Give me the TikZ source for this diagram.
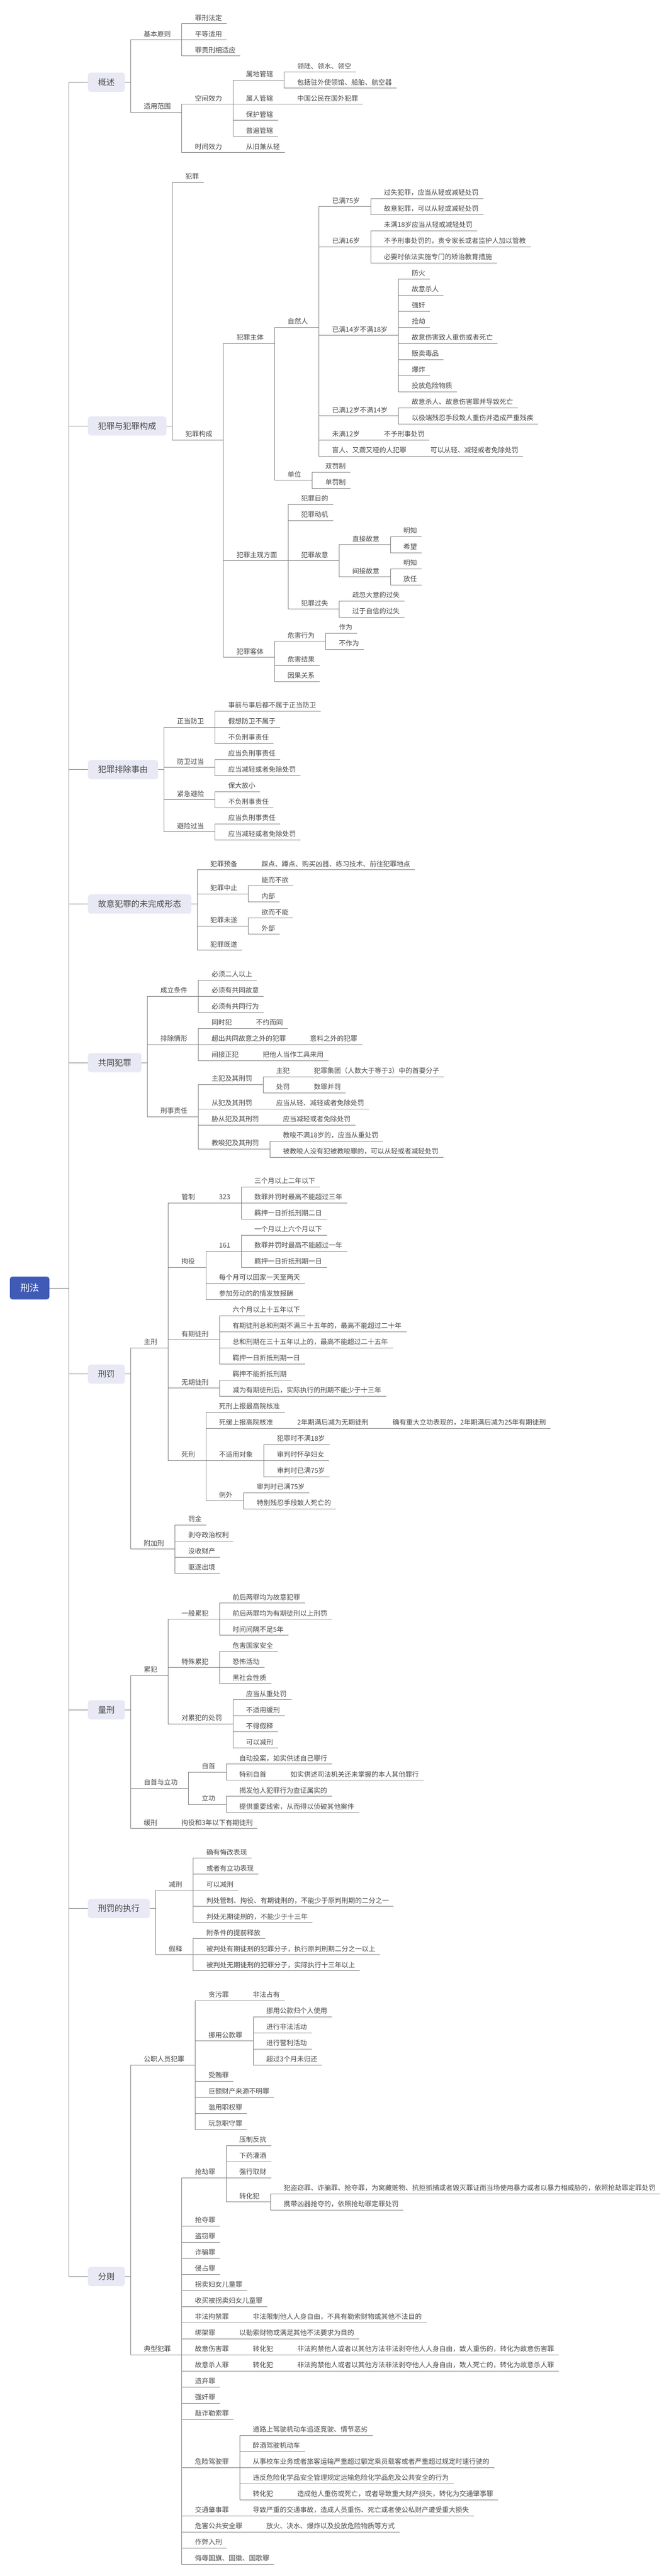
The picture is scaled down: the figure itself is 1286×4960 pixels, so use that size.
\documentclass[tikz,border=0pt]{standalone}
\usepackage{fontspec}
\setmainfont{Noto Sans CJK SC}
\usetikzlibrary{calc}
\definecolor{txtc}{HTML}{4A4A4A}
\definecolor{lnc}{HTML}{808080}
\definecolor{topicfill}{HTML}{E8E9F4}
\definecolor{rootfill}{HTML}{3F5BB5}
\tikzset{
 txt/.style={inner sep=0pt, text=txtc, font=\fontsize{13pt}{15pt}\selectfont, text height=11pt, text depth=1.2pt},
 ln/.style={draw=lnc, line width=1pt},
 topic/.style={fill=topicfill, rounded corners=5pt, inner xsep=19.5pt, inner ysep=0pt, minimum height=37pt, text=txtc, font=\fontsize{16pt}{18pt}\selectfont, text height=13.5pt, text depth=1.5pt},
 rootbox/.style={fill=rootfill, rounded corners=5pt, inner xsep=20pt, inner ysep=0pt, minimum height=44pt, text=white, font=\fontsize{18pt}{20pt}\selectfont, text height=15pt, text depth=2pt}
}
\newcommand\mmN[4]{%
  \path let \p1=(#2-s) in node[txt,anchor=west] (#1) at ({\x1+25pt},{-(\secbase+31*(#3))*1pt}) {#4};
  \path let \p1=(#1.east) in coordinate (#1-s) at ({\x1+21pt},{-(\secbase+31*(#3)+11.5)*1pt});
  \draw[ln] (#2-s) |- (#1-s);
}
\newcommand\mmL[4]{%
  \path let \p1=(#2-s) in node[txt,anchor=west] (#1) at ({\x1+25pt},{-(\secbase+31*(#3))*1pt}) {#4};
  \path let \p1=(#1.east) in coordinate (#1-e) at ({\x1+9pt},{-(\secbase+31*(#3)+11.5)*1pt});
  \draw[ln] (#2-s) |- (#1-e);
}
\newcommand\mmT[3]{%
  \node[topic,anchor=west] (#1) at (169pt,{-(\secbase+31*(#2))*1pt}) {#3};
  \path let \p1=(#1.east) in coordinate (#1-s) at ({\x1+11pt},{-(\secbase+31*(#2))*1pt});
  \draw[ln] (#1.east) -- (#1-s);
  \draw[ln] (R-s) |- (#1.west);
}
\begin{document}
\begin{tikzpicture}
\fill[white] (0pt,0pt) rectangle (1286pt,-4960pt);
\useasboundingbox (0pt,0pt) rectangle (1286pt,-4960pt);
\node[rootbox] (R) at (57pt,-2480pt) {刑法};
\coordinate (R-s) at (132pt,-2480pt);
\draw[ln] (R.east) -- (R-s);
% ---------- 概述
\def\secbase{34.3}
\mmT{a}{4}{概述}
\mmN{a1}{a}{1}{基本原则}
\mmL{a11}{a1}{0}{罪刑法定}
\mmL{a12}{a1}{1}{平等适用}
\mmL{a13}{a1}{2}{罪责刑相适应}
\mmN{a2}{a}{5.5}{适用范围}
\mmN{a21}{a2}{5}{空间效力}
\mmN{a211}{a21}{3.5}{属地管辖}
\mmL{a2111}{a211}{3}{领陆、领水、领空}
\mmL{a2112}{a211}{4}{包括驻外使领馆、船舶、航空器}
\mmN{a212}{a21}{5}{属人管辖}
\mmL{a2121}{a212}{5}{中国公民在国外犯罪}
\mmL{a213}{a21}{6}{保护管辖}
\mmL{a214}{a21}{7}{普遍管辖}
\mmN{a22}{a2}{8}{时间效力}
\mmL{a221}{a22}{8}{从旧兼从轻}
% ---------- 犯罪与犯罪构成
\def\secbase{339.6}
\mmT{b}{15.5}{犯罪与犯罪构成}
\mmL{b0}{b}{0}{犯罪}
\mmN{b1}{b}{16}{犯罪构成}
\mmN{b11}{b1}{10}{犯罪主体}
\mmN{b111}{b11}{9}{自然人}
\mmN{b1111}{b111}{1.5}{已满75岁}
\mmL{bx1}{b1111}{1}{过失犯罪，应当从轻或减轻处罚}
\mmL{bx2}{b1111}{2}{故意犯罪，可以从轻或减轻处罚}
\mmN{b1112}{b111}{4}{已满16岁}
\mmL{bx3}{b1112}{3}{未满18岁应当从轻或减轻处罚}
\mmL{bx4}{b1112}{4}{不予刑事处罚的，责令家长或者监护人加以管教}
\mmL{bx5}{b1112}{5}{必要时依法实施专门的矫治教育措施}
\mmN{b1113}{b111}{9.5}{已满14岁不满18岁}
\mmL{bx6}{b1113}{6}{防火}
\mmL{bx7}{b1113}{7}{故意杀人}
\mmL{bx8}{b1113}{8}{强奸}
\mmL{bx9}{b1113}{9}{抢劫}
\mmL{bx10}{b1113}{10}{故意伤害致人重伤或者死亡}
\mmL{bx11}{b1113}{11}{贩卖毒品}
\mmL{bx12}{b1113}{12}{爆炸}
\mmL{bx13}{b1113}{13}{投放危险物质}
\mmN{b1114}{b111}{14.5}{已满12岁不满14岁}
\mmL{bx14}{b1114}{14}{故意杀人、故意伤害罪并导致死亡}
\mmL{bx15}{b1114}{15}{以极端残忍手段致人重伤并造成严重残疾}
\mmN{b1115}{b111}{16}{未满12岁}
\mmL{bx16}{b1115}{16}{不予刑事处罚}
\mmN{b1116}{b111}{17}{盲人、又聋又哑的人犯罪}
\mmL{bx17}{b1116}{17}{可以从轻、减轻或者免除处罚}
\mmN{b112}{b11}{18.5}{单位}
\mmL{bx18}{b112}{18}{双罚制}
\mmL{bx19}{b112}{19}{单罚制}
\mmN{b12}{b1}{23.5}{犯罪主观方面}
\mmL{bx20}{b12}{20}{犯罪目的}
\mmL{bx21}{b12}{21}{犯罪动机}
\mmN{b123}{b12}{23.5}{犯罪故意}
\mmN{b1231}{b123}{22.5}{直接故意}
\mmL{bx22}{b1231}{22}{明知}
\mmL{bx23}{b1231}{23}{希望}
\mmN{b1232}{b123}{24.5}{间接故意}
\mmL{bx24}{b1232}{24}{明知}
\mmL{bx25}{b1232}{25}{放任}
\mmN{b124}{b12}{26.5}{犯罪过失}
\mmL{bx26}{b124}{26}{疏忽大意的过失}
\mmL{bx27}{b124}{27}{过于自信的过失}
\mmN{b13}{b1}{29.5}{犯罪客体}
\mmN{b131}{b13}{28.5}{危害行为}
\mmL{bx28}{b131}{28}{作为}
\mmL{bx29}{b131}{29}{不作为}
\mmL{bx30}{b13}{30}{危害结果}
\mmL{bx31}{b13}{31}{因果关系}
% ---------- 犯罪排除事由
\def\secbase{1357.9}
\mmT{c}{4}{犯罪排除事由}
\mmN{c1}{c}{1}{正当防卫}
\mmL{cx0}{c1}{0}{事前与事后都不属于正当防卫}
\mmL{cx1}{c1}{1}{假想防卫不属于}
\mmL{cx2}{c1}{2}{不负刑事责任}
\mmN{c2}{c}{3.5}{防卫过当}
\mmL{cx3}{c2}{3}{应当负刑事责任}
\mmL{cx4}{c2}{4}{应当减轻或者免除处罚}
\mmN{c3}{c}{5.5}{紧急避险}
\mmL{cx5}{c3}{5}{保大放小}
\mmL{cx6}{c3}{6}{不负刑事责任}
\mmN{c4}{c}{7.5}{避险过当}
\mmL{cx7}{c4}{7}{应当负刑事责任}
\mmL{cx8}{c4}{8}{应当减轻或者免除处罚}
% ---------- 故意犯罪的未完成形态
\def\secbase{1663.2}
\mmT{d}{2.5}{故意犯罪的未完成形态}
\mmN{d1}{d}{0}{犯罪预备}
\mmL{dx0}{d1}{0}{踩点、蹲点、购买凶器、练习技术、前往犯罪地点}
\mmN{d2}{d}{1.5}{犯罪中止}
\mmL{dx1}{d2}{1}{能而不欲}
\mmL{dx2}{d2}{2}{内部}
\mmN{d3}{d}{3.5}{犯罪未遂}
\mmL{dx3}{d3}{3}{欲而不能}
\mmL{dx4}{d3}{4}{外部}
\mmL{dx5}{d}{5}{犯罪既遂}
% ---------- 共同犯罪
\def\secbase{1875.5}
\mmT{e}{5.5}{共同犯罪}
\mmN{e1}{e}{1}{成立条件}
\mmL{ex0}{e1}{0}{必须二人以上}
\mmL{ex1}{e1}{1}{必须有共同故意}
\mmL{ex2}{e1}{2}{必须有共同行为}
\mmN{e2}{e}{4}{排除情形}
\mmN{e21}{e2}{3}{同时犯}
\mmL{ex3}{e21}{3}{不约而同}
\mmN{e22}{e2}{4}{超出共同故意之外的犯罪}
\mmL{ex4}{e22}{4}{意料之外的犯罪}
\mmN{e23}{e2}{5}{间接正犯}
\mmL{ex5}{e23}{5}{把他人当作工具来用}
\mmN{e3}{e}{8.5}{刑事责任}
\mmN{e31}{e3}{6.5}{主犯及其刑罚}
\mmN{e311}{e31}{6}{主犯}
\mmL{ex6}{e311}{6}{犯罪集团（人数大于等于3）中的首要分子}
\mmN{e312}{e31}{7}{处罚}
\mmL{ex7}{e312}{7}{数罪并罚}
\mmN{e32}{e3}{8}{从犯及其刑罚}
\mmL{ex8}{e32}{8}{应当从轻、减轻或者免除处罚}
\mmN{e33}{e3}{9}{胁从犯及其刑罚}
\mmL{ex9}{e33}{9}{应当减轻或者免除处罚}
\mmN{e34}{e3}{10.5}{教唆犯及其刑罚}
\mmL{ex10}{e34}{10}{教唆不满18岁的，应当从重处罚}
\mmL{ex11}{e34}{11}{被教唆人没有犯被教唆罪的，可以从轻或者减轻处罚}
% ---------- 刑罚
\def\secbase{2273.8}
\mmT{f}{12}{刑罚}
\mmN{f1}{f}{10}{主刑}
\mmN{f11}{f1}{1}{管制}
\mmN{f111}{f11}{1}{323}
\mmL{fx0}{f111}{0}{三个月以上二年以下}
\mmL{fx1}{f111}{1}{数罪并罚时最高不能超过三年}
\mmL{fx2}{f111}{2}{羁押一日折抵刑期二日}
\mmN{f12}{f1}{5}{拘役}
\mmN{f121}{f12}{4}{161}
\mmL{fx3}{f121}{3}{一个月以上六个月以下}
\mmL{fx4}{f121}{4}{数罪并罚时最高不能超过一年}
\mmL{fx5}{f121}{5}{羁押一日折抵刑期一日}
\mmL{fx6}{f12}{6}{每个月可以回家一天至两天}
\mmL{fx7}{f12}{7}{参加劳动的酌情发放报酬}
\mmN{f13}{f1}{9.5}{有期徒刑}
\mmL{fx8}{f13}{8}{六个月以上十五年以下}
\mmL{fx9}{f13}{9}{有期徒刑总和刑期不满三十五年的，最高不能超过二十年}
\mmL{fx10}{f13}{10}{总和刑期在三十五年以上的，最高不能超过二十五年}
\mmL{fx11}{f13}{11}{羁押一日折抵刑期一日}
\mmN{f14}{f1}{12.5}{无期徒刑}
\mmL{fx12}{f14}{12}{羁押不能折抵刑期}
\mmL{fx13}{f14}{13}{减为有期徒刑后，实际执行的刑期不能少于十三年}
\mmN{f15}{f1}{17}{死刑}
\mmL{fx14}{f15}{14}{死刑上报最高院核准}
\mmN{f152}{f15}{15}{死缓上报高院核准}
\mmN{f1521}{f152}{15}{2年期满后减为无期徒刑}
\mmL{fx15}{f1521}{15}{确有重大立功表现的，2年期满后减为25年有期徒刑}
\mmN{f153}{f15}{17}{不适用对象}
\mmL{fx16}{f153}{16}{犯罪时不满18岁}
\mmL{fx17}{f153}{17}{审判时怀孕妇女}
\mmL{fx18}{f153}{18}{审判时已满75岁}
\mmN{f154}{f15}{19.5}{例外}
\mmL{fx19}{f154}{19}{审判时已满75岁}
\mmL{fx20}{f154}{20}{特别残忍手段致人死亡的}
\mmN{f2}{f}{22.5}{附加刑}
\mmL{fx21}{f2}{21}{罚金}
\mmL{fx22}{f2}{22}{剥夺政治权利}
\mmL{fx23}{f2}{23}{没收财产}
\mmL{fx24}{f2}{24}{驱逐出境}
% ---------- 量刑
\def\secbase{3075.1}
\mmT{g}{7}{量刑}
\mmN{g1}{g}{4.5}{累犯}
\mmN{g11}{g1}{1}{一般累犯}
\mmL{gx0}{g11}{0}{前后两罪均为故意犯罪}
\mmL{gx1}{g11}{1}{前后两罪均为有期徒刑以上刑罚}
\mmL{gx2}{g11}{2}{时间间隔不足5年}
\mmN{g12}{g1}{4}{特殊累犯}
\mmL{gx3}{g12}{3}{危害国家安全}
\mmL{gx4}{g12}{4}{恐怖活动}
\mmL{gx5}{g12}{5}{黑社会性质}
\mmN{g13}{g1}{7.5}{对累犯的处罚}
\mmL{gx6}{g13}{6}{应当从重处罚}
\mmL{gx7}{g13}{7}{不适用缓刑}
\mmL{gx8}{g13}{8}{不得假释}
\mmL{gx9}{g13}{9}{可以减刑}
\mmN{g2}{g}{11.5}{自首与立功}
\mmN{g21}{g2}{10.5}{自首}
\mmL{gx10}{g21}{10}{自动投案，如实供述自己罪行}
\mmN{g212}{g21}{11}{特别自首}
\mmL{gx11}{g212}{11}{如实供述司法机关还未掌握的本人其他罪行}
\mmN{g22}{g2}{12.5}{立功}
\mmL{gx12}{g22}{12}{揭发他人犯罪行为查证属实的}
\mmL{gx13}{g22}{13}{提供重要线索，从而得以侦破其他案件}
\mmN{g3}{g}{14}{缓刑}
\mmL{gx14}{g3}{14}{拘役和3年以下有期徒刑}
% ---------- 刑罚的执行
\def\secbase{3566.4}
\mmT{h}{3.5}{刑罚的执行}
\mmN{h1}{h}{2}{减刑}
\mmL{hx0}{h1}{0}{确有悔改表现}
\mmL{hx1}{h1}{1}{或者有立功表现}
\mmL{hx2}{h1}{2}{可以减刑}
\mmL{hx3}{h1}{3}{判处管制、拘役、有期徒刑的，不能少于原判刑期的二分之一}
\mmL{hx4}{h1}{4}{判处无期徒刑的，不能少于十三年}
\mmN{h2}{h}{6}{假释}
\mmL{hx5}{h2}{5}{附条件的提前释放}
\mmL{hx6}{h2}{6}{被判处有期徒刑的犯罪分子，执行原判刑期二分之一以上}
\mmL{hx7}{h2}{7}{被判处无期徒刑的犯罪分子，实际执行十三年以上}
% ---------- 分则
\def\secbase{3840.7}
\mmT{k}{17.5}{分则}
\mmN{k1}{k}{4}{公职人员犯罪}
\mmN{k11}{k1}{0}{贪污罪}
\mmL{kx0}{k11}{0}{非法占有}
\mmN{k12}{k1}{2.5}{挪用公款罪}
\mmL{kx1}{k12}{1}{挪用公款归个人使用}
\mmL{kx2}{k12}{2}{进行非法活动}
\mmL{kx3}{k12}{3}{进行营利活动}
\mmL{kx4}{k12}{4}{超过3个月未归还}
\mmL{kx5}{k1}{5}{受贿罪}
\mmL{kx6}{k1}{6}{巨额财产来源不明罪}
\mmL{kx7}{k1}{7}{滥用职权罪}
\mmL{kx8}{k1}{8}{玩忽职守罪}
\mmN{k2}{k}{22}{典型犯罪}
\mmN{k21}{k2}{11}{抢劫罪}
\mmL{kx9}{k21}{9}{压制反抗}
\mmL{kx10}{k21}{10}{下药灌酒}
\mmL{kx11}{k21}{11}{强行取财}
\mmN{k214}{k21}{12.5}{转化犯}
\mmL{kx12}{k214}{12}{犯盗窃罪、诈骗罪、抢夺罪，为窝藏赃物、抗拒抓捕或者毁灭罪证而当场使用暴力或者以暴力相威胁的，依照抢劫罪定罪处罚}
\mmL{kx13}{k214}{13}{携带凶器抢夺的，依照抢劫罪定罪处罚}
\mmL{kx14}{k2}{14}{抢夺罪}
\mmL{kx15}{k2}{15}{盗窃罪}
\mmL{kx16}{k2}{16}{诈骗罪}
\mmL{kx17}{k2}{17}{侵占罪}
\mmL{kx18}{k2}{18}{拐卖妇女儿童罪}
\mmL{kx19}{k2}{19}{收买被拐卖妇女儿童罪}
\mmN{k28}{k2}{20}{非法拘禁罪}
\mmL{kx20}{k28}{20}{非法限制他人人身自由，不具有勒索财物或其他不法目的}
\mmN{k29}{k2}{21}{绑架罪}
\mmL{kx21}{k29}{21}{以勒索财物或满足其他不法要求为目的}
\mmN{k30}{k2}{22}{故意伤害罪}
\mmN{k301}{k30}{22}{转化犯}
\mmL{kx22}{k301}{22}{非法拘禁他人或者以其他方法非法剥夺他人人身自由，致人重伤的，转化为故意伤害罪}
\mmN{k31}{k2}{23}{故意杀人罪}
\mmN{k311}{k31}{23}{转化犯}
\mmL{kx23}{k311}{23}{非法拘禁他人或者以其他方法非法剥夺他人人身自由，致人死亡的，转化为故意杀人罪}
\mmL{kx24}{k2}{24}{遗弃罪}
\mmL{kx25}{k2}{25}{强奸罪}
\mmL{kx26}{k2}{26}{敲诈勒索罪}
\mmN{k35}{k2}{29}{危险驾驶罪}
\mmL{kx27}{k35}{27}{道路上驾驶机动车追逐竞驶、情节恶劣}
\mmL{kx28}{k35}{28}{醉酒驾驶机动车}
\mmL{kx29}{k35}{29}{从事校车业务或者旅客运输严重超过额定乘员载客或者严重超过规定时速行驶的}
\mmL{kx30}{k35}{30}{违反危险化学品安全管理规定运输危险化学品危及公共安全的行为}
\mmN{k355}{k35}{31}{转化犯}
\mmL{kx31}{k355}{31}{造成他人重伤或死亡，或者导致重大财产损失，转化为交通肇事罪}
\mmN{k36}{k2}{32}{交通肇事罪}
\mmL{kx32}{k36}{32}{导致严重的交通事故，造成人员重伤、死亡或者使公私财产遭受重大损失}
\mmN{k37}{k2}{33}{危害公共安全罪}
\mmL{kx33}{k37}{33}{放火、决水、爆炸以及投放危险物质等方式}
\mmL{kx34}{k2}{34}{作弊入刑}
\mmL{kx35}{k2}{35}{侮辱国旗、国徽、国歌罪}
\end{tikzpicture}
\end{document}
